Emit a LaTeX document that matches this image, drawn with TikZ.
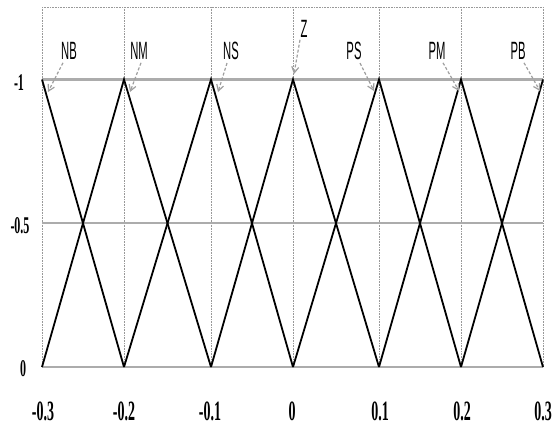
\documentclass[tikz,border=0pt]{standalone}
\usepackage{fontspec}
\usepackage{graphicx}
\setmainfont{Liberation Serif}
\newfontfamily\lblfont{Liberation Sans}
\usetikzlibrary{arrows.meta}
\newcommand{\narrowtxt}[1]{\scalebox{0.5}[1]{#1}}
\newcommand{\narrowlbl}[1]{\scalebox{0.45}[1]{#1}}
\tikzset{
  gridv/.style={draw=gray!80, line width=0.6pt, densely dotted},
  gridh/.style={draw=gray!65, line width=2.2pt},
  gridtop/.style={draw=gray!80, line width=0.6pt, densely dotted},
  mf/.style={draw=black, line width=1.8pt, line join=miter},
  setlbl/.style={inner sep=0pt, font=\lblfont\fontsize{25}{25}\selectfont},
  numlbl/.style={inner sep=0pt, font=\bfseries\fontsize{28}{28}\selectfont},
  ylbl/.style={inner sep=0pt, font=\bfseries\fontsize{24}{24}\selectfont},
  ptr/.style={draw=gray!75, line width=1.2pt, dashed, dash pattern=on 3pt off 2pt, -{Straight Barb[length=6pt,width=7pt]}}
}
\begin{document}
\begin{tikzpicture}[x=1pt,y=-1pt]
\useasboundingbox (0,0) rectangle (557,426);
% key positions
\def\yT{7}
\def\yA{79.5}
\def\yB{223.3}
\def\yC{367}
% vertical grid lines
\foreach \xx in {42,124,211,293,379,461,543}{
  \draw[gridv] (\xx,\yT) -- (\xx,\yC);
}
\draw[gridtop] (42,\yT) -- (543,\yT);
\draw[gridh] (42,\yA) -- (543,\yA);
\draw[gridh] (42,\yB) -- (543,\yB);
\draw[gridh] (42,\yC) -- (543,\yC);
% membership functions
\coordinate (p1) at (42,\yA);
\coordinate (p2) at (124,\yA);
\coordinate (p3) at (211,\yA);
\coordinate (p4) at (293,\yA);
\coordinate (p5) at (379,\yA);
\coordinate (p6) at (461,\yA);
\coordinate (p7) at (543,\yA);
\coordinate (b1) at (42,\yC);
\coordinate (b2) at (124,\yC);
\coordinate (b3) at (211,\yC);
\coordinate (b4) at (293,\yC);
\coordinate (b5) at (379,\yC);
\coordinate (b6) at (461,\yC);
\coordinate (b7) at (543,\yC);
\draw[mf] (p1) -- (b2);
\draw[mf] (b1) -- (p2) -- (b3);
\draw[mf] (b2) -- (p3) -- (b4);
\draw[mf] (b3) -- (p4) -- (b5);
\draw[mf] (b4) -- (p5) -- (b6);
\draw[mf] (b5) -- (p6) -- (b7);
\draw[mf] (b6) -- (p7);
% set labels
\node[setlbl] (NB) at (69,51) {\narrowlbl{NB}};
\node[setlbl] (NM) at (139,51) {\narrowlbl{NM}};
\node[setlbl] (NS) at (231,51) {\narrowlbl{NS}};
\node[setlbl] (Z)  at (304,29) {\narrowlbl{Z}};
\node[setlbl] (PS) at (354,51) {\narrowlbl{PS}};
\node[setlbl] (PM) at (437,51) {\narrowlbl{PM}};
\node[setlbl] (PB) at (518,51) {\narrowlbl{PB}};
% pointer tips
\coordinate (tNB) at (48,92);
\coordinate (tNM) at (130,92);
\coordinate (tNS) at (218,92);
\coordinate (tZ)  at (294,74);
\coordinate (tPS) at (374,91);
\coordinate (tPM) at (459,91);
\coordinate (tPB) at (540,91);
\draw[ptr] ([xshift=-6pt,yshift=-3pt]NB.south) -- (tNB);
\draw[ptr] ([xshift=2pt,yshift=-3pt]NM.south) -- (tNM);
\draw[ptr] ([xshift=-4pt,yshift=-3pt]NS.south) -- (tNS);
\draw[ptr] ([xshift=-4pt,yshift=-2pt]Z.south) -- (tZ);
\draw[ptr] ([xshift=6pt,yshift=-3pt]PS.south) -- (tPS);
\draw[ptr] ([xshift=6pt,yshift=-3pt]PM.south) -- (tPM);
\draw[ptr] ([xshift=6pt,yshift=-3pt]PB.south) -- (tPB);
% y labels
\node[ylbl] (ya) at (19,83) {\narrowtxt{-1}};
\node[ylbl] (yb) at (20,226) {\narrowtxt{-0.5}};
\node[ylbl] (yc) at (23,369) {\narrowtxt{0}};
% x labels
\node[numlbl] (x1) at (43,411) {\narrowtxt{-0.3}};
\node[numlbl] (x2) at (124,411) {\narrowtxt{-0.2}};
\node[numlbl] (x3) at (210,411) {\narrowtxt{-0.1}};
\node[numlbl] (x4) at (292,411) {\narrowtxt{0}};
\node[numlbl] (x5) at (380,411) {\narrowtxt{0.1}};
\node[numlbl] (x6) at (462,411) {\narrowtxt{0.2}};
\node[numlbl] (x7) at (543,411) {\narrowtxt{0.3}};
\end{tikzpicture}
\end{document}
